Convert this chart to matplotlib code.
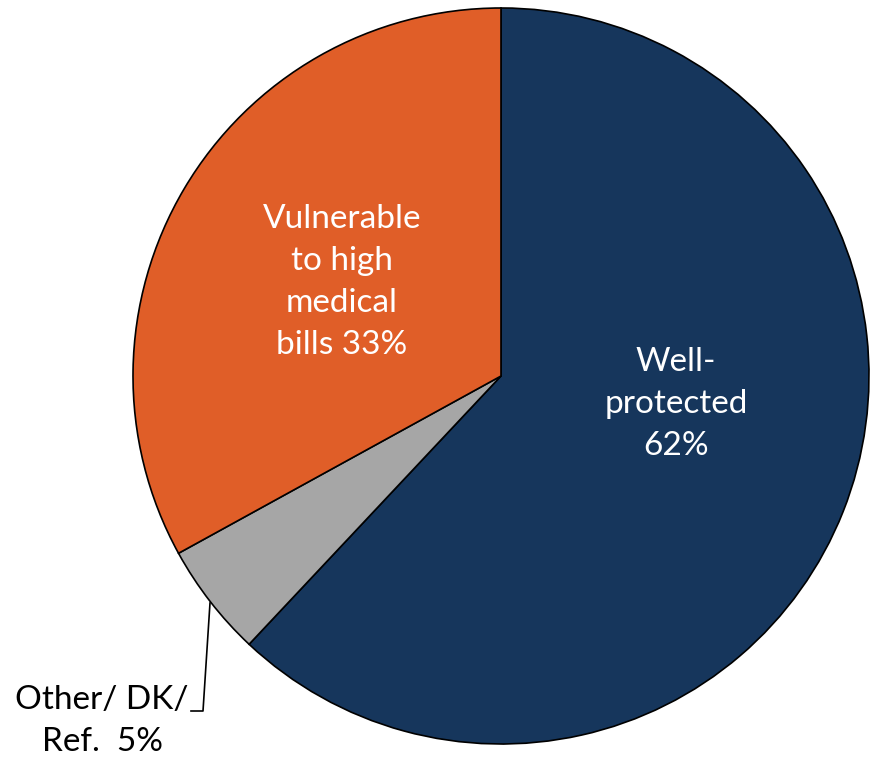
import matplotlib.pyplot as plt

labels = ["Well-\nprotected\n62%", "Other/ DK/\nRef.  5%", "Vulnerable\nto high\nmedical\nbills 33%"]
shares = [62, 5, 33]
colors = ["#16365C", "#A6A6A6", "#E05E28"]

plt.rcParams['font.family'] = ['Lato', 'DejaVu Sans']

fig = plt.figure(figsize=(8.74, 7.6), dpi=100)
ax = fig.add_axes([0, 0, 1, 1])

cx, cy, r = 501, 384, 368
ax.pie(shares, colors=colors, startangle=90, counterclock=False,
       center=(cx, cy), radius=r, frame=True,
       wedgeprops=dict(edgecolor='black', linewidth=1.2))
ax.set_xlim(0, 874)
ax.set_ylim(0, 760)
ax.set_aspect('equal')
ax.axis('off')

# labels inside the two big slices
ax.text(676, 760 - 404, labels[0], ha='center', va='center', color='white',
        fontsize=24, linespacing=1.5)
ax.text(342, 760 - 282, labels[2], ha='center', va='center', color='white',
        fontsize=24, linespacing=1.5)

# small slice label with leader line
ax.text(102, 760 - 721, labels[1], ha='center', va='center', color='black',
        fontsize=24, linespacing=1.5)
ax.plot([210, 203, 191], [760 - 603, 760 - 711, 760 - 711], color='black', lw=1.2)

fig.savefig("out.png", dpi=100)
